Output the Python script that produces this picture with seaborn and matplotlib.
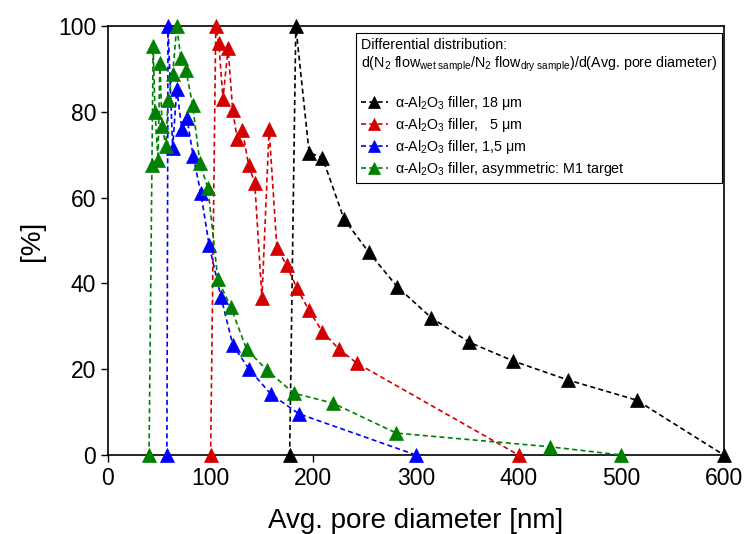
import numpy as np
import pandas as pd
import matplotlib
matplotlib.use("Agg")
import matplotlib.pyplot as plt
import seaborn as sns

# Data
x_18 = [177, 183, 196, 209, 230, 254, 282, 315, 352, 395, 448, 515, 600]
y_18 = [0, 100, 70.5, 69.3, 55, 47.3, 39.2, 32, 26.3, 21.9, 17.5, 12.8, 0]

x_5 = [100, 105, 108, 112, 117, 121.5, 126, 131, 137, 143, 150, 157, 164.6, 174, 184, 195.7, 209, 225, 242.5, 400]
y_5 = [0, 100, 96, 83, 94.9, 80.4, 73.6, 75.8, 67.6, 63.4, 36.6, 76, 48.2, 44.3, 38.9, 33.8, 28.7, 24.7, 21.4, 0]

x_15 = [57.4, 58.5, 63, 67, 72, 77, 83, 90.5, 98.5, 110, 121.7, 137.5, 158.7, 186, 300]
y_15 = [0, 100, 71.6, 85.3, 76, 78.5, 69.7, 61, 49, 36.9, 25.6, 20, 14.2, 9.6, 0]

x_m1 = [40, 42.8, 44, 45.8, 48.7, 50.6, 52.6, 56.5, 58.4, 63, 67, 71, 76, 82.5, 89.6, 97.4,
        107, 119.6, 135, 154.7, 181, 219, 281, 431, 500]
y_m1 = [0, 67.6, 95.3, 80, 68.8, 91.4, 76.7, 72, 82.7, 88.8, 100, 92.5, 89.7, 81.5, 68, 62.2,
        41, 34.5, 24.7, 19.8, 14.4, 12.1, 5.1, 1.9, 0]

labels = [
    "α-Al$_2$O$_3$ filler, 18 μm",
    "α-Al$_2$O$_3$ filler,   5 μm",
    "α-Al$_2$O$_3$ filler, 1,5 μm",
    "α-Al$_2$O$_3$ filler, asymmetric: M1 target",
]
colors = ["#000000", "#d40000", "#0000ff", "#008000"]
x_ticks = [0, 100, 200, 300, 400, 500, 600]
y_ticks = [0, 20, 40, 60, 80, 100]

sns.set_theme(style="ticks")
plt.rcParams["font.family"] = ["Liberation Sans", "DejaVu Sans"]
plt.rcParams["mathtext.fontset"] = "custom"
plt.rcParams["mathtext.rm"] = "Liberation Sans"
plt.rcParams["mathtext.it"] = "Liberation Sans:italic"
plt.rcParams["mathtext.bf"] = "Liberation Sans:bold"
for k in ["text.color", "axes.labelcolor", "xtick.color", "ytick.color",
          "xtick.labelcolor", "ytick.labelcolor", "axes.edgecolor"]:
    plt.rcParams[k] = "black"

fig = plt.figure(figsize=(7.5, 5.34), dpi=100)
ax = fig.add_axes([0.144, 0.148, 0.821, 0.803])

series = [(x_18, y_18), (x_5, y_5), (x_15, y_15), (x_m1, y_m1)]
for (xs, ys), lab, col in zip(series, labels, colors):
    df = pd.DataFrame({"x": xs, "y": ys})
    sns.lineplot(data=df, x="x", y="y", sort=False, ax=ax, color=col, label=lab,
                 marker="^", markersize=10, markeredgewidth=0.5, markeredgecolor=col,
                 linewidth=1.2, dashes=False, clip_on=False, zorder=3)
for line in ax.get_lines():
    line.set_linestyle((0, (3, 2)))

ax.set_xlim(0, 600)
ax.set_ylim(0, 100)
ax.set_xticks(x_ticks)
ax.set_yticks(y_ticks)
ax.tick_params(axis="both", labelsize=16.5, direction="out", length=5, width=1,
               color="black", labelcolor="black")
ax.set_xlabel("Avg. pore diameter [nm]", fontsize=20, labelpad=13, color="black")
ax.set_ylabel("[%]", fontsize=20, labelpad=9, color="black")
for s in ax.spines.values():
    s.set_visible(True)
    s.set_color("black")
    s.set_linewidth(1.2)

title = ("Differential distribution:\n"
         "d(N$_2$ flow$_{\\mathrm{wet\\ sample}}$/N$_2$ flow$_{\\mathrm{dry\\ sample}}$)/d(Avg. pore diameter)\n")
leg = ax.legend(title=title, loc="upper right", bbox_to_anchor=(0.9965, 0.984), borderaxespad=0,
                fontsize=10.3, title_fontsize=10.3, frameon=True, fancybox=False, edgecolor="black",
                handlelength=1.9, handletextpad=0.5, markerscale=0.85, borderpad=0.35,
                labelspacing=0.28)
leg._legend_box.align = "left"
leg.get_frame().set_linewidth(0.8)
leg.get_frame().set_alpha(1)
leg.get_title().set_color("black")
for t in leg.get_texts():
    t.set_color("black")

fig.savefig("out.png", dpi=100)
